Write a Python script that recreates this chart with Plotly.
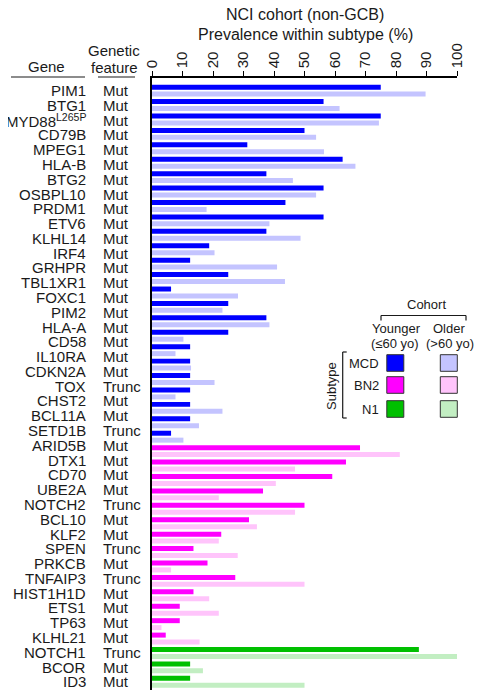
import plotly.graph_objects as go

# ---- data ----
# bar rows (the reference has 25 MCD bar rows against 24 MCD gene labels)
subtype = ["MCD"] * 25 + ["BN2"] * 14 + ["N1"] * 3
younger = [75, 56.25, 75, 50, 31.25, 62.5, 37.5, 56.25, 43.75, 56.25, 37.5, 18.75,
           12.5, 25, 6.25, 25, 37.5, 25, 12.5, 12.5, 12.5, 12.5, 12.5, 12.5, 6.25,
           68.2, 63.6, 59.1, 36.4, 50, 31.8, 22.7, 13.6, 18.2, 27.3, 13.6, 9.1, 9.1, 4.5,
           87.5, 12.5, 12.5]
older = [89.7, 61.5, 74.4, 53.8, 56.4, 66.7, 46.2, 53.8, 17.9, 38.5, 48.7, 20.5,
         41.0, 43.6, 28.2, 23.1, 38.5, 10.3, 7.7, 12.8, 20.5, 7.7, 23.1, 15.4, 10.3,
         81.25, 46.9, 40.6, 21.9, 46.9, 34.4, 21.9, 28.1, 6.25, 50, 18.75, 21.9, 3.1, 15.6,
         100, 16.7, 50]

genes = ["PIM1", "BTG1", "MYD88<sup>L265P</sup>", "CD79B", "MPEG1", "HLA-B", "BTG2",
         "OSBPL10", "PRDM1", "ETV6", "KLHL14", "IRF4", "GRHPR", "TBL1XR1", "FOXC1",
         "PIM2", "HLA-A", "CD58", "IL10RA", "CDKN2A", "TOX", "CHST2", "BCL11A", "SETD1B",
         "ARID5B", "DTX1", "CD70", "UBE2A", "NOTCH2", "BCL10", "KLF2", "SPEN", "PRKCB",
         "TNFAIP3", "HIST1H1D", "ETS1", "TP63", "KLHL21", "NOTCH1", "BCOR", "ID3"]
features = ["Mut"] * 20 + ["Trunc", "Mut", "Mut", "Trunc", "Mut", "Mut", "Mut", "Mut",
            "Trunc", "Mut", "Mut", "Trunc", "Mut", "Trunc", "Mut", "Mut", "Mut", "Mut",
            "Trunc", "Mut", "Mut"]

x_ticks = list(range(0, 101, 10))

young_col = {"MCD": "#0000FF", "BN2": "#FF00FF", "N1": "#00C000"}
old_col = {"MCD": "#C4C4FF", "BN2": "#FFC4FB", "N1": "#C2EEC2"}
subtypes = ["MCD", "BN2", "N1"]

# ---- layout helpers: positions given in page pixels (page has an 8px body margin) ----
OFF = 8
W, H = 488 - OFF, 691 - OFF
L, R, T, B = 152 - OFF, 31, 78 - OFF, 1
PW, PH = W - L - R, H - T - B
def fx(px):
    return (px - OFF - L) / PW
def fy(py):
    return (H - B - (py - OFF)) / PH

FONT = "Liberation Sans, Arial, sans-serif"
TXT = "#1a1a1a"

rows = list(range(len(younger)))
fig = go.Figure()
fig.add_trace(go.Bar(y=rows, x=younger, orientation="h", name="Younger",
                     marker=dict(color=[young_col[s] for s in subtype], line_width=0)))
fig.add_trace(go.Bar(y=rows, x=older, orientation="h", name="Older",
                     marker=dict(color=[old_col[s] for s in subtype], line_width=0)))

ann = []
shapes = []
n_lab = len(genes)
n_rows = len(rows)
for i, (g, f) in enumerate(zip(genes, features)):
    yv = i * (n_rows - 1) / (n_lab - 1)
    ann.append(dict(x=fx(87.5), y=yv, xref="paper", yref="y", text=g, showarrow=False,
                    xanchor="right", yanchor="middle", font=dict(size=15, color=TXT)))
    ann.append(dict(x=fx(101), y=yv, xref="paper", yref="y", text=f, showarrow=False,
                    xanchor="left", yanchor="middle", font=dict(size=15, color=TXT)))

def text(px, py, s, size=15, xa="center", angle=0):
    ann.append(dict(x=fx(px), y=fy(py), xref="paper", yref="paper", text=s,
                    showarrow=False, xanchor=xa, yanchor="middle", textangle=angle,
                    font=dict(size=size, color=TXT)))

def line(x0, y0, x1, y1, w=1.2, c="#1a1a1a"):
    shapes.append(dict(type="line", xref="paper", yref="paper", x0=fx(x0), y0=fy(y0),
                       x1=fx(x1), y1=fy(y1), line=dict(color=c, width=w)))

# title
text(305, 15, "NCI cohort (non-GCB)", 16)
text(305, 34, "Prevalence within subtype (%)", 16)
# headers
text(46, 66, "Gene", 15)
text(114, 51, "Genetic", 15)
text(114, 67, "feature", 15)
line(11, 77, 85, 77)
line(98, 77, 135, 77)

# legend
text(426, 304, "Cohort", 13)
line(381, 315.5, 466, 315.5)
line(381, 315.5, 381, 320.5)
line(466, 315.5, 466, 320.5)
text(396, 328, "Younger", 13)
text(395, 343, "(≤60 yo)", 13)
text(449, 328, "Older", 13)
text(450, 343, "(>60 yo)", 13)
line(342.7, 352, 342.7, 418)
line(342.7, 352, 346.7, 352)
line(342.7, 418, 346.7, 418)
text(331, 386, "Subtype", 13, angle=-90)
row_y = [363, 385, 409]
for s, yc in zip(subtypes, row_y):
    text(381, yc, s, 13, xa="right")
    for xc, cmap in ((395.3, young_col), (448.8, old_col)):
        shapes.append(dict(type="rect", xref="paper", yref="paper",
                           x0=fx(xc - 8.5), x1=fx(xc + 8.5), y0=fy(yc - 8.3), y1=fy(yc + 8.3),
                           fillcolor=cmap[s], line=dict(color="#333333", width=1)))

y_top = -0.874
y_bot = y_top + PH / 14.42

fig.update_layout(
    width=W, height=H, margin=dict(l=L, r=R, t=T, b=B, pad=0),
    paper_bgcolor="white", plot_bgcolor="white",
    barmode="group", bargap=0.04, bargroupgap=0.28, showlegend=False,
    font=dict(family=FONT, color=TXT),
    xaxis=dict(side="top", range=[0, 100], tickvals=x_ticks, ticks="outside", ticklen=5,
               tickwidth=1.2, tickcolor="black", showline=True, linecolor="black",
               linewidth=1.5, tickangle=-90, tickfont=dict(size=15, color=TXT),
               showgrid=False, zeroline=False, fixedrange=True),
    yaxis=dict(range=[y_bot, y_top], showticklabels=False, ticks="", showline=True,
               linecolor="black", linewidth=2, showgrid=False, zeroline=False),
    annotations=ann, shapes=shapes,
)
fig.write_html("out.html")
